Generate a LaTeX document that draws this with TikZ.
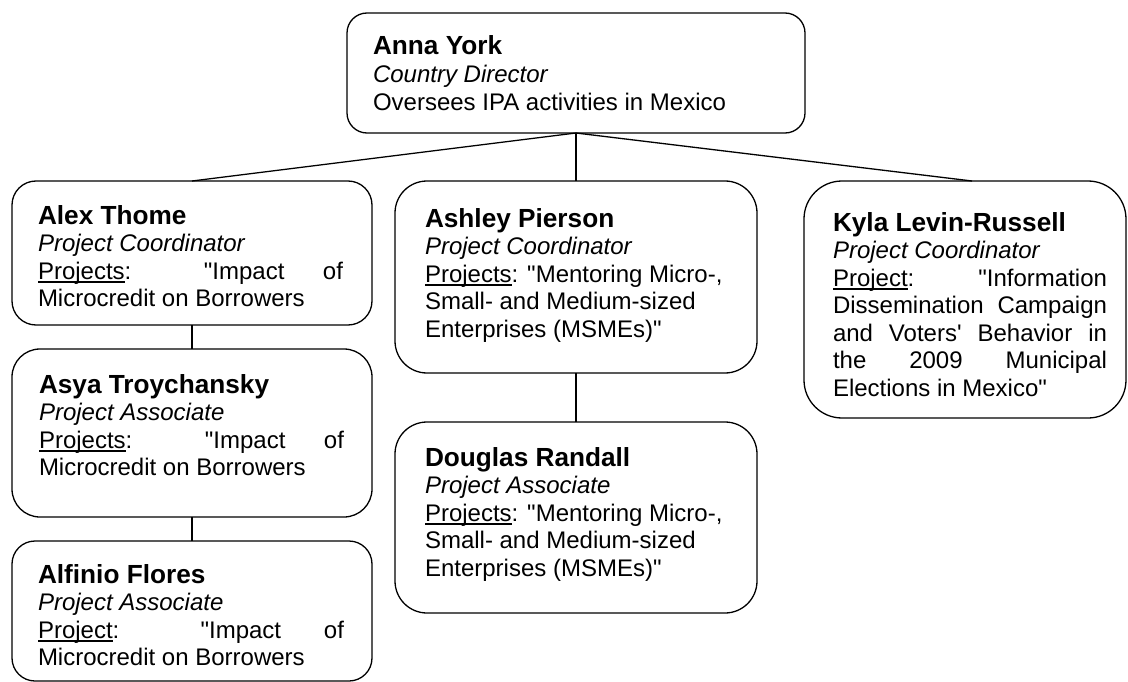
\documentclass[tikz,border=0pt]{standalone}
\usepackage{fontspec}
\setmainfont{Liberation Sans}
\newfontfamily\arial{Liberation Sans}
\newcommand\nm{\fontsize{26.2}{27.6}\selectfont\bfseries}
\newcommand\ulin[1]{\setbox0=\hbox{#1}\rlap{\rule[-3.8pt]{\wd0}{1.6pt}}\box0}
\newcommand\blk[2]{\parbox[t]{#1}{\arial\fontsize{24}{27.6}\selectfont #2}}
\tikzset{
  box/.style={draw=black, line width=1.3pt, rectangle, outer sep=0pt, inner sep=0pt, fill=white},
  txt/.style={inner sep=0pt, outer sep=0pt, anchor=base west, align=left},
  link/.style={draw=black, line width=1.3pt}
}
\begin{document}
\begin{tikzpicture}[x=1pt,y=-1pt]
\useasboundingbox[fill=white] (0,0) rectangle (1128,682);
% boxes
\node[box, minimum width=458pt, minimum height=120pt, rounded corners=20pt] (anna) at (576,73) {};
\node[box, minimum width=360pt, minimum height=144pt, rounded corners=24pt] (alex) at (192,253) {};
\node[box, minimum width=360pt, minimum height=168pt, rounded corners=28pt] (asya) at (192,433) {};
\node[box, minimum width=360pt, minimum height=140pt, rounded corners=23pt] (alfinio) at (192,611) {};
\node[box, minimum width=362pt, minimum height=192pt, rounded corners=32pt] (ashley) at (576,277) {};
\node[box, minimum width=362pt, minimum height=191pt, rounded corners=32pt] (douglas) at (576,517.5) {};
\node[box, minimum width=322pt, minimum height=237pt, rounded corners=38pt] (kyla) at (965,299.5) {};
% connectors
\draw[link] (anna.south) -- (ashley.north);
\draw[link] (anna.south) -- (alex.north);
\draw[link] (anna.south) -- ([xshift=7pt]kyla.north);
\draw[link] (alex.south) -- (asya.north);
\draw[link] (asya.south) -- (alfinio.north);
\draw[link] (ashley.south) -- (douglas.north);
% texts
\node[txt] (annaT) at (373,55) {\blk{420pt}{{\nm Anna York}\\ \textit{Country Director}\\ Oversees IPA activities in Mexico}};
\node[txt] (alexT) at (38,224) {\blk{305pt}{{\nm Alex Thome}\\ \textit{Project Coordinator}\\ \makebox[305pt][s]{\ulin{Projects}: "Impact of}\\ Microcredit on Borrowers}};
\node[txt] (asyaT) at (39,393) {\blk{305pt}{{\nm Asya Troychansky}\\ \textit{Project Associate}\\ \makebox[305pt][s]{\ulin{Projects}: "Impact of}\\ Microcredit on Borrowers}};
\node[txt] (alfinioT) at (38,583) {\blk{306pt}{{\nm Alfinio Flores}\\ \textit{Project Associate}\\ \makebox[306pt][s]{\ulin{Project}: "Impact of}\\ Microcredit on Borrowers}};
\node[txt] (ashleyT) at (425,227) {\blk{320pt}{{\nm Ashley Pierson}\\ \textit{Project Coordinator}\\ \ulin{Projects}: "Mentoring Micro-,\\ Small- and Medium-sized\\ Enterprises (MSMEs)"}};
\node[txt] (douglasT) at (425,466) {\blk{320pt}{{\nm Douglas Randall}\\ \textit{Project Associate}\\ \ulin{Projects}: "Mentoring Micro-,\\ Small- and Medium-sized\\ Enterprises (MSMEs)"}};
\node[txt] (kylaT) at (833,231) {\blk{274pt}{{\nm Kyla Levin-Russell}\\ \textit{Project Coordinator}\\ \makebox[274pt][s]{\ulin{Project}: "Information}\\ \makebox[274pt][s]{Dissemination Campaign}\\ \makebox[274pt][s]{and Voters' Behavior in}\\ \makebox[274pt][s]{the 2009 Municipal}\\ Elections in Mexico"}};
\end{tikzpicture}
\end{document}
